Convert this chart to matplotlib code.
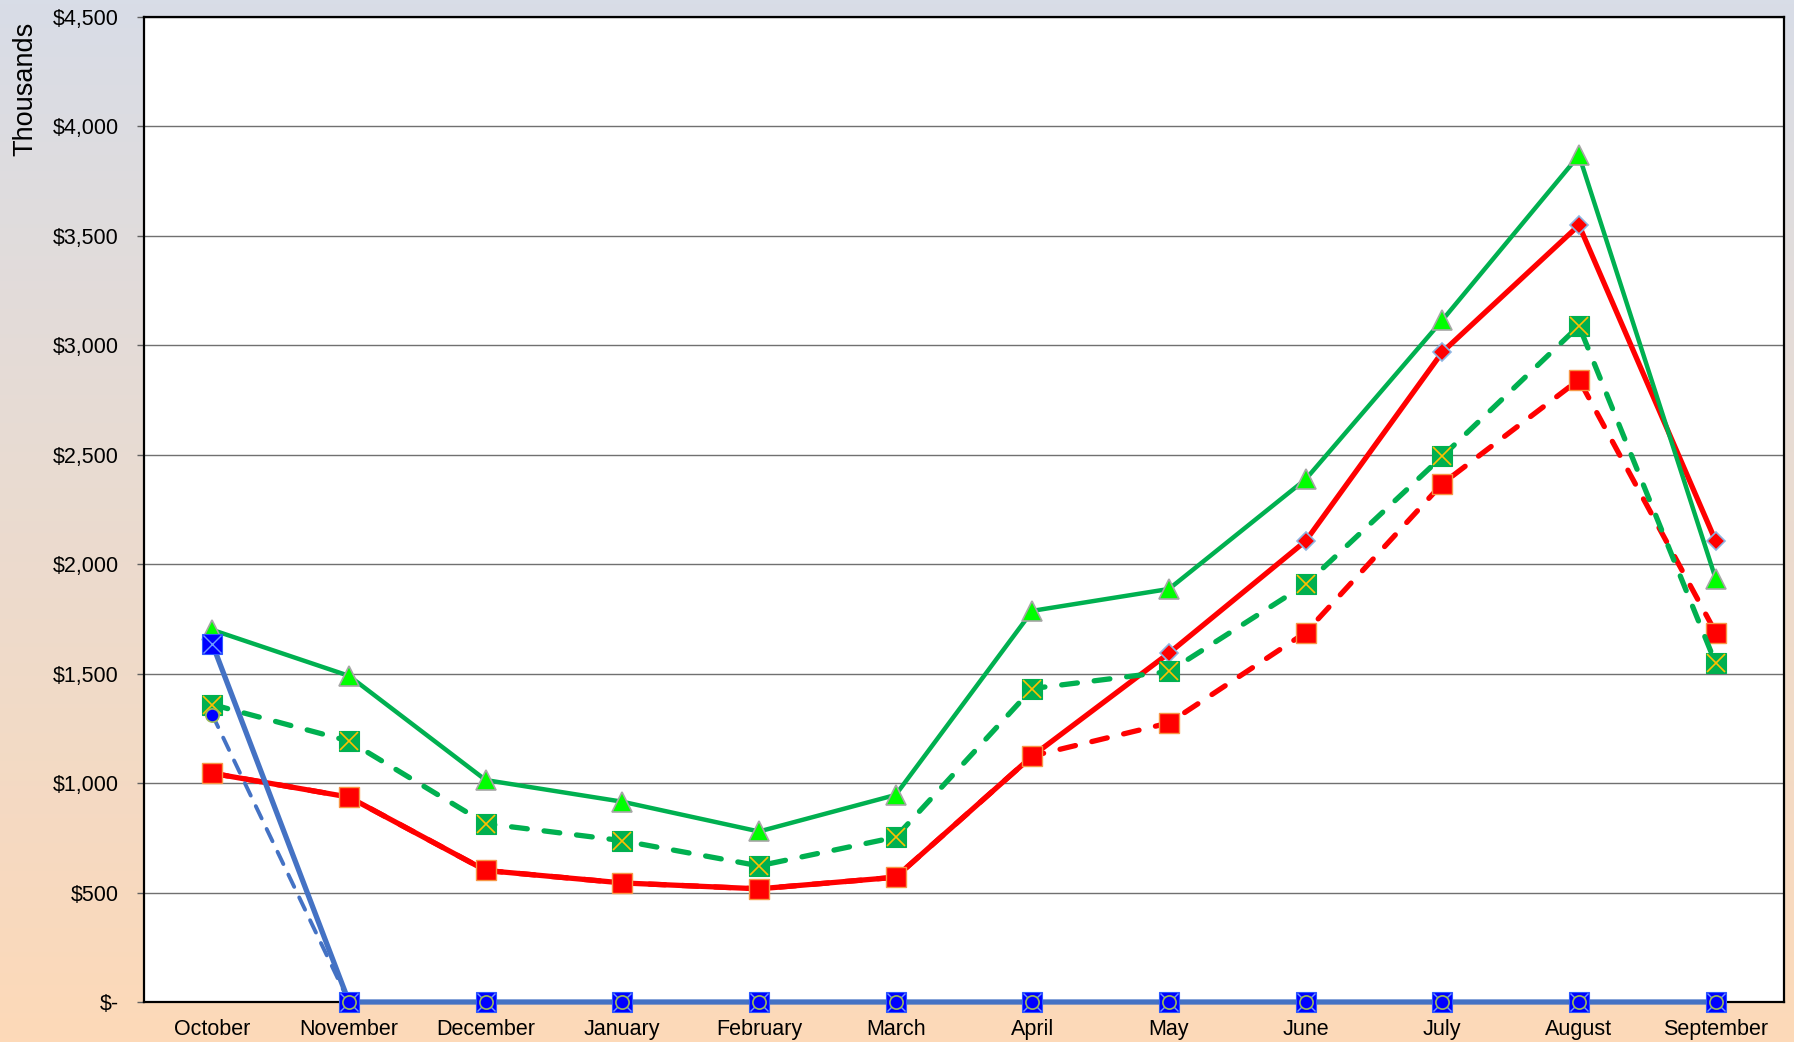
import numpy as np
import matplotlib
matplotlib.use("Agg")
import matplotlib.pyplot as plt
from matplotlib.ticker import FuncFormatter, MultipleLocator

plt.rcParams['font.family'] = ['Liberation Sans', 'DejaVu Sans']

months = ["October", "November", "December", "January", "February", "March",
          "April", "May", "June", "July", "August", "September"]

green_solid = [1700, 1490, 1014, 915, 779, 946, 1787, 1887, 2388, 3115, 3868, 1934]
green_dashed = [1359, 1192, 815, 737, 622, 753, 1432, 1510, 1908, 2493, 3089, 1547]
red_dashed = [1045, 936, 601, 544, 517, 570, 1124, 1275, 1688, 2368, 2843, 1688]
red_solid = [1045, 936, 601, 544, 517, 570, 1124, 1594, 2106, 2969, 3549, 2106]
blue_solid = [1636, 0, 0, 0, 0, 0, 0, 0, 0, 0, 0, 0]
blue_dashed = [1312, 0, 0, 0, 0, 0, 0, 0, 0, 0, 0, 0]

W, H = 1794, 1042
fig = plt.figure(figsize=(W / 100, H / 100), dpi=100)

# gradient background
bg = fig.add_axes([0, 0, 1, 1], zorder=-10)
top = np.array([216, 221, 231]) / 255
bot = np.array([253, 217, 184]) / 255
t = np.linspace(0, 1, 256)[:, None]
grad = top[None, None, :] * (1 - t[:, :, None]) + bot[None, None, :] * t[:, :, None]
grad = np.repeat(grad, 2, axis=1)
bg.imshow(grad, aspect='auto', extent=[0, 1, 0, 1])
bg.axis('off')

ax = fig.add_axes([144 / W, 1 - 1002 / H, (1784 - 144) / W, (1002 - 17) / H])
ax.set_facecolor('white')
x = np.arange(len(months))

GREEN = '#00b050'
RED = '#ff0000'
BLUE = '#4472c4'

# red solid with diamonds
ax.plot(x, red_solid, color=RED, lw=3.8, marker='D', ms=9.5, mfc=RED,
        mec='#8db4e2', mew=1.2, zorder=3, clip_on=False)
# red dashed with squares
ax.plot(x, red_dashed, color=RED, lw=3.8, ls=(0, (3.0, 3.2)), dash_capstyle='round',
        marker='s', ms=14, mfc=RED, mec='#f79646', mew=1.0, zorder=4, clip_on=False)
# green dashed with x-squares
ax.plot(x, green_dashed, color=GREEN, lw=3.8, ls=(0, (3.0, 3.2)), dash_capstyle='round',
        marker='s', ms=14, mfc=GREEN, mec=GREEN, mew=0.8, zorder=5, clip_on=False)
ax.plot(x, green_dashed, ls='none', marker='x', ms=13.5, mec='#ffc000', mew=1.2,
        zorder=5.1, clip_on=False)
# green solid with triangles
ax.plot(x, green_solid, color=GREEN, lw=3.2, marker='^', ms=14, mfc='#00ff00',
        mec='#a6a6a6', mew=1.2, zorder=6, clip_on=False)
# blue dashed with circles
ax.plot(x, blue_dashed, color=BLUE, lw=2.8, ls=(0, (3.5, 3.0)), dash_capstyle='round',
        zorder=7, clip_on=False)
# blue solid with x-squares
ax.plot(x, blue_solid, color=BLUE, lw=3.8, zorder=8, clip_on=False)
ax.plot(x, blue_solid, ls='none', marker='s', ms=14, mfc='#0000ff', mec='#2d5bff',
        mew=0.8, zorder=9, clip_on=False)
ax.plot(x, blue_solid, ls='none', marker='x', ms=13.5, mec='#6f9bff', mew=1.0,
        zorder=9.1, clip_on=False)
ax.plot(x, blue_dashed, ls='none', marker='o', ms=9.5, mfc='#0000ff', mec='#9bbb59',
        mew=1.2, zorder=10, clip_on=False)

ax.set_xlim(-0.5, 11.5)
ax.set_ylim(0, 4500)
ax.yaxis.set_major_locator(MultipleLocator(500))


def fmt(v, pos):
    if abs(v) < 1e-9:
        return "$-"
    return "${:,.0f}".format(v)


ax.yaxis.set_major_formatter(FuncFormatter(fmt))
ax.set_xticks(x)
ax.set_xticklabels(months)
ax.tick_params(axis='x', length=0, pad=12, labelsize=15.5)
ax.tick_params(axis='y', length=5, width=1.0, color='#606060', pad=13, labelsize=15.5)
ax.grid(axis='y', color='#707070', lw=1.0, zorder=0)
ax.set_axisbelow(True)
for s in ax.spines.values():
    s.set_color('black')
    s.set_linewidth(1.6)

fig.text(25 / W, 1 - 22 / H, "Thousands", rotation=90, ha='center', va='top', fontsize=19.5)

fig.savefig("out.png", dpi=100)
